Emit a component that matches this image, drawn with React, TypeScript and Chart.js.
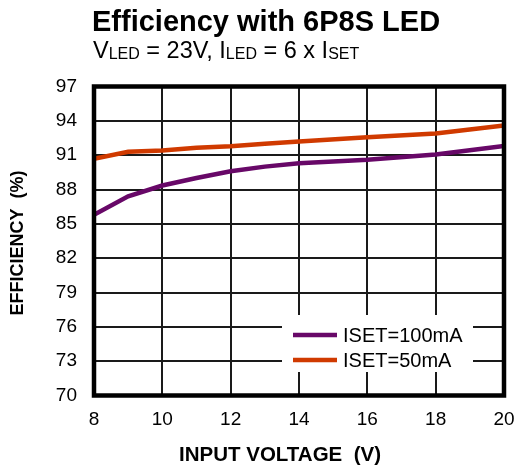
import React, { useEffect, useRef } from "react";
import { Chart, registerables } from "chart.js";

Chart.register(...registerables);

const voltages = [8, 9, 10, 11, 12, 13, 14, 16, 18, 20];
const iset100 = [85.8, 87.4, 88.35, 89.0, 89.6, 90.0, 90.3, 90.6, 91.05, 91.8];
const iset50 = [90.68, 91.29, 91.4, 91.64, 91.78, 92.0, 92.2, 92.57, 92.89, 93.59];
const seriesLabels = ["ISET=100mA", "ISET=50mA"];
const seriesColors = ["#680868", "#D03A00"];
const titleText = "Efficiency with 6P8S LED";
const subtitleParts = [
  { t: "V", sub: false },
  { t: "LED", sub: true },
  { t: " = 23V, I", sub: false },
  { t: "LED", sub: true },
  { t: " = 6 x I", sub: false },
  { t: "SET", sub: true },
];
const xTitle = "INPUT VOLTAGE  (V)";
const yTitle = "EFFICIENCY  (%)";
const xMin = 8, xMax = 20, xStep = 2;
const yMin = 70, yMax = 97, yStep = 3;

const FONT = "'Liberation Sans', Arial, Helvetica, sans-serif";

const overlayPlugin = {
  id: "overlay",
  afterDraw(chart: any) {
    const ctx = chart.ctx as CanvasRenderingContext2D;
    const a = chart.chartArea;
    ctx.save();
    // frame
    ctx.strokeStyle = "#000";
    ctx.lineWidth = 4.5;
    ctx.strokeRect(a.left, a.top, a.right - a.left, a.bottom - a.top);

    // legend box
    const lx = 282, ly = 315, lw = 191, lh = 57;
    ctx.fillStyle = "#fff";
    ctx.fillRect(lx, ly, lw, lh);
    ctx.font = `20px ${FONT}`;
    ctx.textBaseline = "middle";
    ctx.textAlign = "left";
    chart.data.datasets.forEach((ds: any, i: number) => {
      const yy = 335 + i * 25;
      ctx.strokeStyle = ds.borderColor;
      ctx.lineWidth = 4.5;
      ctx.beginPath();
      ctx.moveTo(293, yy);
      ctx.lineTo(337, yy);
      ctx.stroke();
      ctx.fillStyle = "#000";
      ctx.fillText(ds.label, 343, yy + 1);
    });

    // title
    ctx.fillStyle = "#000";
    ctx.textBaseline = "alphabetic";
    ctx.font = `bold 29px ${FONT}`;
    ctx.fillText(titleText, 92, 31);

    // subtitle
    let x = 93;
    subtitleParts.forEach((p) => {
      ctx.font = p.sub ? `16px ${FONT}` : `23.5px ${FONT}`;
      ctx.fillText(p.t, x, p.sub ? 59 : 58);
      x += ctx.measureText(p.t).width;
    });

    // x title
    ctx.font = `bold 20.5px ${FONT}`;
    ctx.textAlign = "center";
    ctx.fillText(xTitle, 280, 461);

    // y title
    ctx.save();
    ctx.translate(18, 243);
    ctx.rotate(-Math.PI / 2);
    ctx.textBaseline = "middle";
    ctx.font = `bold 18px ${FONT}`;
    ctx.fillText(yTitle, 0, 0);
    ctx.restore();

    ctx.restore();
  },
};

export default function App() {
  const ref = useRef<HTMLCanvasElement>(null);
  useEffect(() => {
    if (!ref.current) return;
    const chart = new Chart(ref.current, {
      type: "line",
      data: {
        datasets: [
          {
            label: seriesLabels[0],
            data: voltages.map((v, i) => ({ x: v, y: iset100[i] })),
            borderColor: seriesColors[0],
            backgroundColor: seriesColors[0],
            borderWidth: 4.5,
            pointRadius: 0,
            tension: 0,
          },
          {
            label: seriesLabels[1],
            data: voltages.map((v, i) => ({ x: v, y: iset50[i] })),
            borderColor: seriesColors[1],
            backgroundColor: seriesColors[1],
            borderWidth: 4.5,
            pointRadius: 0,
            tension: 0,
          },
        ],
      },
      options: {
        responsive: false,
        animation: false,
        events: [],
        layout: { padding: { top: 86.5, right: 13, left: 0, bottom: 0 } },
        plugins: { legend: { display: false }, title: { display: false }, tooltip: { enabled: false } },
        scales: {
          x: {
            type: "linear",
            min: xMin,
            max: xMax,
            afterFit: (s: any) => { s.height = 74.5; s.paddingRight = 0; s.paddingLeft = 0; },
            ticks: { stepSize: xStep, padding: 13, color: "#000", font: { family: FONT, size: 19 } },
            grid: { color: "#1a1a1a", lineWidth: 2, drawTicks: false },
            border: { display: false },
          },
          y: {
            type: "linear",
            min: yMin,
            max: yMax,
            afterFit: (s: any) => { s.width = 94; s.paddingTop = 0; s.paddingBottom = 0; },
            ticks: { stepSize: yStep, padding: 17, color: "#000", font: { family: FONT, size: 19 } },
            grid: { color: "#1a1a1a", lineWidth: 2, drawTicks: false },
            border: { display: false },
          },
        },
      },
      plugins: [overlayPlugin],
    });
    return () => chart.destroy();
  }, []);
  return (
    <div style={{ position: "absolute", left: 0, top: 0, width: 517, height: 470, background: "#fff" }}>
      <canvas ref={ref} width={517} height={470} style={{ display: "block", width: 517, height: 470 }} />
    </div>
  );
}
